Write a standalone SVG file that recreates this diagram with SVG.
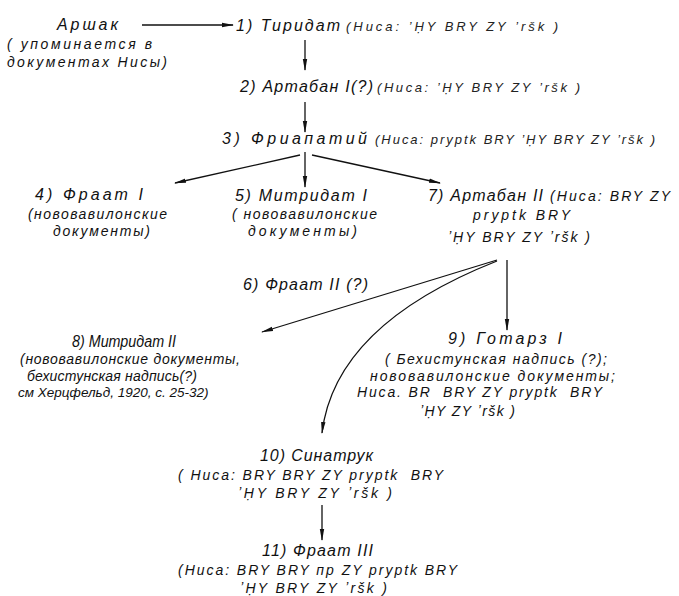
<svg xmlns="http://www.w3.org/2000/svg" width="679" height="596" viewBox="0 0 679 596">
<style>
text{font-family:"Liberation Sans","DejaVu Sans",sans-serif;font-style:italic;fill:#111;}
.m{font-size:16px;}
.s{font-size:14px;}
.t{font-size:13px;fill:#222;}
.c{fill:none;stroke:#111;stroke-width:1.3;}
</style>
<defs>
<marker id="ah" markerWidth="12" markerHeight="6" refX="11" refY="3" orient="auto" markerUnits="userSpaceOnUse">
<path d="M0,0.8 L12,3 L0,5.2 z" fill="#111"/>
</marker>
</defs>
<rect width="679" height="596" fill="#fff"/>
<g id="connectors">
<line class="c" x1="142" y1="25" x2="233" y2="25" marker-end="url(#ah)"/>
<line class="c" x1="305" y1="40" x2="305" y2="70" marker-end="url(#ah)"/>
<line class="c" x1="305" y1="102" x2="305" y2="132" marker-end="url(#ah)"/>
<line class="c" x1="300" y1="155" x2="175" y2="183" marker-end="url(#ah)"/>
<line class="c" x1="305" y1="152" x2="305" y2="187" marker-end="url(#ah)"/>
<line class="c" x1="312" y1="155" x2="440" y2="183" marker-end="url(#ah)"/>
<line class="c" x1="497" y1="260" x2="262" y2="332" marker-end="url(#ah)"/>
<path class="c" d="M497,261 Q335,325 322,433" marker-end="url(#ah)"/>
<line class="c" x1="507" y1="260" x2="507" y2="330" marker-end="url(#ah)"/>
<line class="c" x1="322" y1="505" x2="322" y2="540" marker-end="url(#ah)"/>
<text class="m" x="243" y="290" textLength="125" lengthAdjust="spacing">6) Фраат II (?)</text>
</g>
<g id="arshak">
<text class="m" x="57" y="30" textLength="61" lengthAdjust="spacing">Аршак</text>
<text class="s" x="7" y="49" textLength="145" lengthAdjust="spacing">( упоминается в</text>
<text class="s" x="7" y="67" textLength="160" lengthAdjust="spacing">документах Нисы)</text>
</g>
<g id="n1">
<text class="m" x="236" y="31" textLength="104" lengthAdjust="spacing">1) Тиридат</text>
<text class="t" x="346" y="31" textLength="212" lengthAdjust="spacing">(Ниса: ʼḤY BRY ZY ʼršk )</text>
</g>
<g id="n2">
<text class="m" x="240" y="92" textLength="133" lengthAdjust="spacing">2) Артабан I(?)</text>
<text class="t" x="377" y="92" textLength="203" lengthAdjust="spacing">(Ниса: ʼḤY BRY ZY ʼršk )</text>
</g>
<g id="n3">
<text class="m" x="222" y="144" textLength="145" lengthAdjust="spacing">3) Фриапатий</text>
<text class="t" x="375" y="144" textLength="280" lengthAdjust="spacing">(Ниса: pryptk BRY ʼḤY BRY ZY ʼršk )</text>
</g>
<g id="n4">
<text class="m" x="35" y="200" textLength="108" lengthAdjust="spacing">4) Фраат I</text>
<text class="s" x="28" y="219" textLength="139" lengthAdjust="spacing">(нововавилонские</text>
<text class="s" x="53" y="236" textLength="97" lengthAdjust="spacing">документы)</text>
</g>
<g id="n5">
<text class="m" x="235" y="201" textLength="132" lengthAdjust="spacing">5) Митридат I</text>
<text class="s" x="232" y="219" textLength="145" lengthAdjust="spacing">( нововавилонские</text>
<text class="s" x="248" y="236" textLength="109" lengthAdjust="spacing">документы)</text>
</g>
<g id="n7">
<text class="m" x="428" y="201" textLength="115" lengthAdjust="spacing">7) Артабан II</text>
<text class="s" x="550" y="201" textLength="120" lengthAdjust="spacing">(Ниса: BRY ZY</text>
<text class="s" x="473" y="220" textLength="97" lengthAdjust="spacing">pryptk BRY</text>
<text class="s" x="448" y="242" textLength="142" lengthAdjust="spacing">ʼḤY BRY ZY ʼršk )</text>
</g>
<g id="n8">
<text class="m" x="72" y="347" textLength="104" lengthAdjust="spacingAndGlyphs">8) Митридат II</text>
<text class="s" x="20" y="364" textLength="220" lengthAdjust="spacing">(нововавилонские документы,</text>
<text class="s" x="27" y="381" textLength="170" lengthAdjust="spacing">бехистунская надпись(?)</text>
<text class="s" x="18" y="397" style="font-size:13.5px">см Херцфельд, 1920, с. 25-32)</text>
</g>
<g id="n9">
<text class="m" x="448" y="344" textLength="114" lengthAdjust="spacing">9) Готарз I</text>
<text class="s" x="385" y="364" textLength="222" lengthAdjust="spacing">( Бехистунская надпись (?);</text>
<text class="s" x="370" y="381" textLength="245" lengthAdjust="spacing">нововавилонские документы;</text>
<text class="s" x="357" y="397" textLength="245" lengthAdjust="spacing" xml:space="preserve">Ниса. BR  BRY ZY pryptk  BRY</text>
<text class="s" x="420" y="416" textLength="95" lengthAdjust="spacing">ʼḤY ZY ʼršk )</text>
</g>
<g id="n10">
<text class="m" x="260" y="461" textLength="113" lengthAdjust="spacing">10) Синатрук</text>
<text class="s" x="178" y="480" textLength="265" lengthAdjust="spacing" xml:space="preserve">( Ниса: BRY BRY ZY pryptk  BRY</text>
<text class="s" x="238" y="498" textLength="154" lengthAdjust="spacing">ʼḤY BRY ZY ʼršk )</text>
</g>
<g id="n11">
<text class="m" x="262" y="556" textLength="111" lengthAdjust="spacing">11) Фраат III</text>
<text class="s" x="178" y="575" textLength="279" lengthAdjust="spacing">(Ниса: BRY BRY пр ZY pryptk BRY</text>
<text class="s" x="240" y="593" textLength="147" lengthAdjust="spacing">ʼḤY BRY ZY ʼršk )</text>
</g>
</svg>
